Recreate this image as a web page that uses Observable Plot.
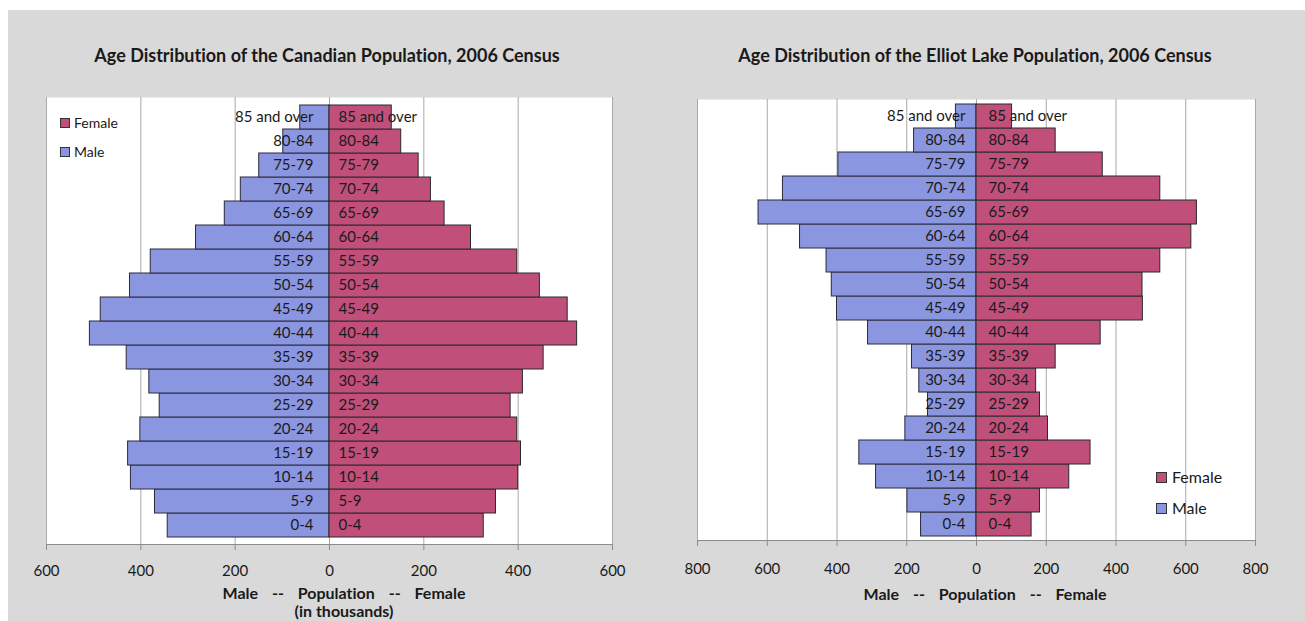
<!DOCTYPE html>
<html>
<head>
<meta charset="utf-8">
<script src="https://cdn.jsdelivr.net/npm/d3@7"></script>
<script src="https://cdn.jsdelivr.net/npm/@observablehq/plot@0.6"></script>
<style>
  html, body { margin: 0; padding: 0; background: #ffffff; width: 1305px; height: 621px; overflow: hidden; }
  #panel { position: absolute; left: 8px; top: 10px; width: 1297px; height: 611px; background: #d9d9d9; }
  .abs { position: absolute; font-family: Lato, "Open Sans", sans-serif; color: #1a1a1a; white-space: pre; font-variant-ligatures: none; }
  svg text { font-variant-ligatures: none; }
  .title { font-weight: bold; font-size: 18px; line-height: 22px; text-align: center; }
  .axlab { font-weight: bold; font-size: 16px; line-height: 20px; text-align: center; word-spacing: 10px; }
  .leg { display: flex; align-items: center; }
  .sw { display: inline-block; border: 1px solid #333; box-sizing: border-box; }
</style>
</head>
<body>
<div id="panel"></div>

<div class="abs title" style="left:27px; top:44px; width:600px;">Age Distribution of the Canadian Population, 2006 Census</div>
<div class="abs title" style="left:675px; top:44px; width:600px;">Age Distribution of the Elliot Lake Population, 2006 Census</div>

<div id="c1" class="abs" style="left:0px; top:80px;"></div>
<div id="c2" class="abs" style="left:650px; top:80px;"></div>

<div class="abs axlab" style="left:144px; top:583px; width:400px;">Male -- Population -- Female</div>
<div class="abs axlab" style="left:144px; top:601px; width:400px; word-spacing:0;">(in thousands)</div>
<div class="abs axlab" style="left:785px; top:584px; width:400px;">Male -- Population -- Female</div>

<div class="abs leg" style="left:60px; top:114px; font-size:14px; line-height:18px;"><span class="sw" style="width:10px;height:10px;background:#c0507a;margin-right:4px;"></span>Female</div>
<div class="abs leg" style="left:60px; top:143px; font-size:14px; line-height:18px;"><span class="sw" style="width:10px;height:10px;background:#8b96e0;margin-right:4px;"></span>Male</div>

<div class="abs leg" style="left:1156px; top:467px; font-size:16px; line-height:20px;"><span class="sw" style="width:11px;height:11px;background:#c0507a;margin-right:5px;"></span>Female</div>
<div class="abs leg" style="left:1156px; top:498px; font-size:16px; line-height:20px;"><span class="sw" style="width:11px;height:11px;background:#8b96e0;margin-right:5px;"></span>Male</div>

<script>
// Age groups, bottom to top
const ages = ["0-4","5-9","10-14","15-19","20-24","25-29","30-34","35-39","40-44","45-49","50-54","55-59","60-64","65-69","70-74","75-79","80-84","85 and over"];

// Canada 2006 (thousands)
const canadaMale   = [343,370,421,427,401,360,382,430,508,485,423,379,283,222,188,149,98,62];
const canadaFemale = [327,353,400,406,398,384,410,454,525,505,446,398,300,244,215,189,152,132];

// Elliot Lake 2006 (persons)
const elliotMale   = [159,198,288,336,204,139,164,185,311,400,415,430,506,625,555,396,179,59];
const elliotFemale = [158,182,266,327,205,182,171,227,356,477,476,527,616,632,527,362,227,102];

// Tick values
const canadaTicks = [-600,-400,-200,0,200,400,600];
const elliotTicks = [-800,-600,-400,-200,0,200,400,600,800];

const maleColor = "#8b96e0";
const femaleColor = "#c0507a";

function pyramid({male, female, ticks, width, height, marginLeft, marginRight, marginTop, marginBottom, tickPadding, maleDx, femaleDx}) {
  const rows = ages.map((a, i) => ({age: a, male: male[i], female: female[i]}));
  const lim = d3.max(ticks);
  return Plot.plot({
    width, height, marginLeft, marginRight, marginTop, marginBottom,
    style: {fontFamily: "Lato, 'Open Sans', sans-serif", fontSize: "15px", background: "transparent", color: "#1a1a1a", overflow: "visible"},
    x: {domain: [-lim, lim], axis: null},
    y: {domain: ages.slice().reverse(), padding: 0, axis: null},
    marks: [
      Plot.frame({fill: "white", stroke: null}),
      Plot.ruleX(ticks, {stroke: "#a9a9a9", strokeWidth: 1}),
      Plot.barX(rows, {y: "age", x: d => -d.male, fill: maleColor, stroke: "#2a2a3a", strokeWidth: 1}),
      Plot.barX(rows, {y: "age", x: d => d.female, fill: femaleColor, stroke: "#2a2a2a", strokeWidth: 1}),
      Plot.text(rows, {y: "age", x: d => 0, text: "age", textAnchor: "end", dx: maleDx, fontSize: 15, fill: "#1a1a1a"}),
      Plot.text(rows, {y: "age", x: d => 0, text: "age", textAnchor: "start", dx: femaleDx, fontSize: 15, fill: "#1a1a1a"}),
      Plot.frame({anchor: "bottom", stroke: "#8c8c8c"}),
      Plot.axisX(ticks, {tickFormat: d => Math.abs(d), tickSize: 6, tickPadding, stroke: "#8c8c8c", fill: "#1a1a1a", fontSize: 15, label: null})
    ]
  });
}

document.getElementById("c1").append(pyramid({
  male: canadaMale, female: canadaFemale, ticks: canadaTicks,
  width: 660, height: 500, marginLeft: 46, marginRight: 48, marginTop: 17, marginBottom: 36,
  tickPadding: 15, maleDx: -16, femaleDx: 9
}));

document.getElementById("c2").append(pyramid({
  male: elliotMale, female: elliotFemale, ticks: elliotTicks,
  width: 640, height: 500, marginLeft: 47, marginRight: 35, marginTop: 19, marginBottom: 40,
  tickPadding: 17, maleDx: -11, femaleDx: 12
}));
</script>
</body>
</html>
